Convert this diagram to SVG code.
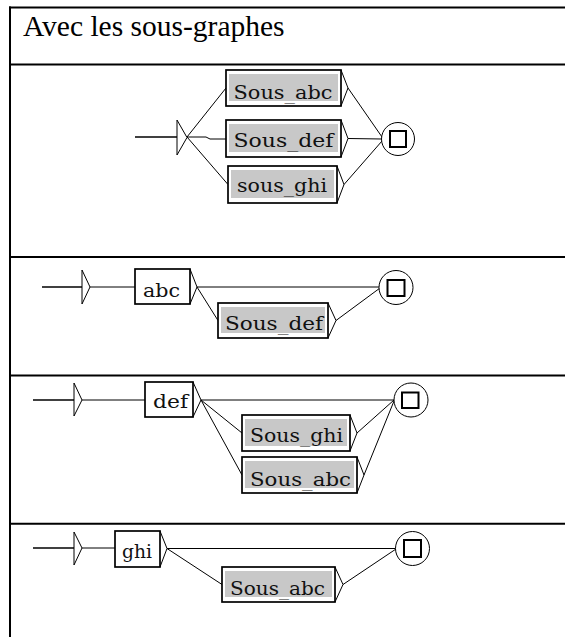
<svg xmlns="http://www.w3.org/2000/svg" width="565" height="637" viewBox="0 0 565 637">
<style>
.tbl{stroke:#000;stroke-width:2;fill:none}
.title{font-family:"Liberation Serif","Times New Roman",serif;font-size:29.5px;fill:#000}
.lbl{font-family:"DejaVu Serif","Liberation Serif",serif;font-size:19px;fill:#111}
.box{fill:#fff;stroke:#000;stroke-width:1.7}
.sub{fill:#c8c8c8;stroke:none}
.br{fill:none;stroke:#000;stroke-width:1}
.ini{fill:#fff;stroke:#000;stroke-width:1}
.fin{fill:#fff;stroke:#000;stroke-width:1}
.sq{fill:#fff;stroke:#000;stroke-width:2}
.conn line,.conn polyline{stroke:#000;stroke-width:1;fill:none}
.conn .in{stroke-width:1.5}
</style>
<rect width="565" height="637" fill="#fff"/>
<g id="table">
<line class="tbl" x1="10" y1="6.5" x2="10" y2="637"/>
<line class="tbl" x1="9" y1="7.5" x2="565" y2="7.5"/>
<line class="tbl" x1="9" y1="64.5" x2="565" y2="64.5"/>
<line class="tbl" x1="9" y1="257" x2="565" y2="257"/>
<line class="tbl" x1="9" y1="375.5" x2="565" y2="375.5"/>
<line class="tbl" x1="9" y1="523.7" x2="565" y2="523.7"/>
<text class="title" x="23" y="36">Avec les sous-graphes</text>
</g>

<g id="connectors" class="conn">
<!-- panel 1 -->
<line class="in" x1="135" y1="137" x2="177" y2="137"/>
<line x1="187" y1="137" x2="226" y2="88"/>
<polyline points="187,137 206,137 210,139 226,139"/>
<line x1="187" y1="137" x2="228" y2="184.5"/>
<line x1="348" y1="88" x2="382" y2="137"/>
<line x1="348" y1="138.5" x2="382" y2="139"/>
<line x1="344" y1="184.5" x2="382" y2="141"/>
<!-- panel 2 -->
<line class="in" x1="42" y1="287" x2="82" y2="287"/>
<line x1="90" y1="287" x2="135" y2="287"/>
<line x1="197" y1="287" x2="379" y2="287"/>
<line x1="197" y1="287" x2="218" y2="320.5"/>
<line x1="336" y1="320.5" x2="380" y2="288"/>
<!-- panel 3 -->
<line class="in" x1="33" y1="400" x2="74" y2="400"/>
<line x1="82" y1="400" x2="145" y2="400"/>
<line x1="201" y1="400" x2="394" y2="400"/>
<line x1="201" y1="400" x2="242" y2="433"/>
<line x1="201" y1="400" x2="242" y2="475"/>
<line x1="357" y1="433" x2="394" y2="400"/>
<line x1="364" y1="475" x2="394" y2="401"/>
<!-- panel 4 -->
<line class="in" x1="33" y1="548" x2="74" y2="548"/>
<line x1="82" y1="548" x2="115" y2="548"/>
<line x1="167" y1="548.5" x2="396" y2="548.5"/>
<line x1="167" y1="548.5" x2="222" y2="584.5"/>
<line x1="343" y1="584.5" x2="396" y2="549"/>
</g>

<!-- panel 1 nodes -->
<g id="p1-init"><path class="ini" d="M177,120 L177,155 L187,137.5 Z"/></g>
<g id="p1-sous_abc">
<rect class="box" x="226" y="70" width="115" height="36"/>
<rect class="sub" x="229" y="74" width="109" height="27"/>
<polyline class="br" points="341,70 348,88 341,106"/>
<text class="lbl" x="233.5" y="98.5" textLength="99" lengthAdjust="spacingAndGlyphs">Sous_abc</text>
</g>
<g id="p1-sous_def">
<rect class="box" x="226" y="120" width="115" height="37"/>
<rect class="sub" x="229" y="124" width="109" height="28"/>
<polyline class="br" points="341,120 348,138.5 341,157"/>
<text class="lbl" x="233.5" y="147" textLength="100" lengthAdjust="spacingAndGlyphs">Sous_def</text>
</g>
<g id="p1-sous_ghi">
<rect class="box" x="228" y="166" width="109" height="37"/>
<rect class="sub" x="231" y="170" width="103" height="28"/>
<polyline class="br" points="337,166 344,184.5 337,203"/>
<text class="lbl" x="237" y="191.5" textLength="90" lengthAdjust="spacingAndGlyphs">sous_ghi</text>
</g>
<g id="p1-final">
<circle class="fin" cx="398" cy="139" r="16.5"/>
<rect class="sq" x="390" y="131" width="16" height="16"/>
</g>

<!-- panel 2 nodes -->
<g id="p2-init"><path class="ini" d="M82,270 L82,304 L90,287 Z"/></g>
<g id="p2-abc">
<rect class="box" x="135" y="269" width="55" height="35"/>
<polyline class="br" points="190,269 197,287 190,304"/>
<text class="lbl" x="143" y="296.5" textLength="37" lengthAdjust="spacingAndGlyphs">abc</text>
</g>
<g id="p2-sous_def">
<rect class="box" x="218" y="303" width="110" height="35"/>
<rect class="sub" x="221" y="307" width="104" height="26"/>
<polyline class="br" points="328,303 336,320.5 328,338"/>
<text class="lbl" x="225" y="329.5" textLength="98" lengthAdjust="spacingAndGlyphs">Sous_def</text>
</g>
<g id="p2-final">
<circle class="fin" cx="396" cy="287.5" r="17"/>
<rect class="sq" x="387.5" y="280" width="17" height="16"/>
</g>

<!-- panel 3 nodes -->
<g id="p3-init"><path class="ini" d="M74,383 L74,416 L82,400 Z"/></g>
<g id="p3-def">
<rect class="box" x="145" y="382" width="48" height="35"/>
<polyline class="br" points="193,382 201,400 193,417"/>
<text class="lbl" x="153" y="408" textLength="35" lengthAdjust="spacingAndGlyphs">def</text>
</g>
<g id="p3-sous_ghi">
<rect class="box" x="242" y="415" width="108" height="36"/>
<rect class="sub" x="245" y="419" width="102" height="27"/>
<polyline class="br" points="350,415 357,433 350,451"/>
<text class="lbl" x="250" y="441.5" textLength="93" lengthAdjust="spacingAndGlyphs">Sous_ghi</text>
</g>
<g id="p3-sous_abc">
<rect class="box" x="242" y="457" width="115" height="36"/>
<rect class="sub" x="245" y="461" width="109" height="27"/>
<polyline class="br" points="357,457 364,475 357,493"/>
<text class="lbl" x="250" y="485.5" textLength="101" lengthAdjust="spacingAndGlyphs">Sous_abc</text>
</g>
<g id="p3-final">
<circle class="fin" cx="411" cy="400" r="17"/>
<rect class="sq" x="402" y="392.5" width="16.5" height="15.5"/>
</g>

<!-- panel 4 nodes -->
<g id="p4-init"><path class="ini" d="M74,532 L74,565 L82,548 Z"/></g>
<g id="p4-ghi">
<rect class="box" x="115" y="531" width="45" height="36"/>
<polyline class="br" points="160,531 167,548.5 160,567"/>
<text class="lbl" x="122" y="558" textLength="30" lengthAdjust="spacingAndGlyphs">ghi</text>
</g>
<g id="p4-sous_abc">
<rect class="box" x="222" y="567" width="113" height="35"/>
<rect class="sub" x="225" y="571" width="107" height="26"/>
<polyline class="br" points="335,567 343,584.5 335,602"/>
<text class="lbl" x="230" y="594.5" textLength="95" lengthAdjust="spacingAndGlyphs">Sous_abc</text>
</g>
<g id="p4-final">
<circle class="fin" cx="412.5" cy="548.5" r="17"/>
<rect class="sq" x="404" y="540" width="17" height="17"/>
</g>
</svg>
